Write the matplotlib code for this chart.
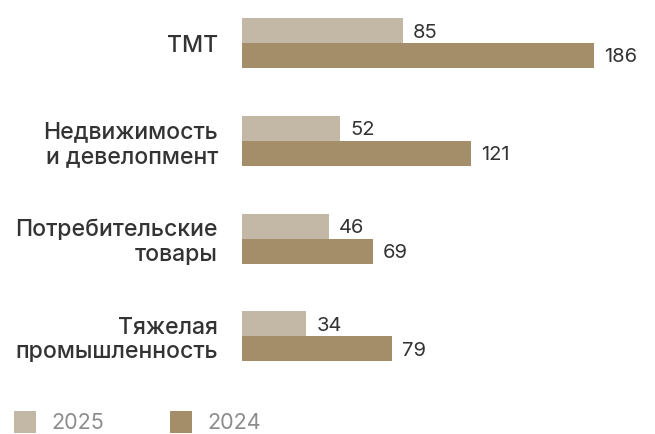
import matplotlib
matplotlib.use("Agg")
import matplotlib.pyplot as plt
from matplotlib.patches import Rectangle
import numpy as np

plt.rcParams['font.family'] = ['Inter', 'DejaVu Sans']

categories = ["ТМТ", "Недвижимость\nи девелопмент", "Потребительские\nтовары",
              "Тяжелая\nпромышленность"]
values_2025 = [85, 52, 46, 34]
values_2024 = [186, 121, 69, 79]
series_names = ["2025", "2024"]

color_2025 = "#c3b8a5"
color_2024 = "#a48d69"
text_color = "#333333"
legend_text_color = "#8c8c8c"

W, H = 655, 434
fig = plt.figure(figsize=(W / 100, H / 100), dpi=100)

# axes geometry in pixels
left_px, top_px, bottom_px = 242, 0, 392
px_per_unit_x = 352 / 186
xmax = 200
width_px = xmax * px_per_unit_x
ax = fig.add_axes([left_px / W, 1 - bottom_px / H, width_px / W, (bottom_px - top_px) / H])

spacing_px = 97.8
first_center_px = 43
y_top = -first_center_px / spacing_px
y_bottom = y_top + (bottom_px - top_px) / spacing_px
bar_h = 25 / spacing_px

y = np.arange(len(categories))
ax.barh(y - bar_h / 2, values_2025, height=bar_h, color=color_2025, linewidth=0)
ax.barh(y + bar_h / 2, values_2024, height=bar_h, color=color_2024, linewidth=0)

ax.set_xlim(0, xmax)
ax.set_ylim(y_bottom, y_top)

gap = 10 / px_per_unit_x
for yi, v in zip(y, values_2025):
    ax.text(v + gap, yi - bar_h / 2, str(v), ha="left", va="center_baseline",
            fontsize=14.5, color=text_color)
for yi, v in zip(y, values_2024):
    ax.text(v + gap, yi + bar_h / 2, str(v), ha="left", va="center_baseline",
            fontsize=14.5, color=text_color)

ax.set_yticks(y)
ax.set_yticklabels(categories, fontsize=16.6, fontweight="medium", color=text_color,
                   multialignment="right", linespacing=1.15)
ax.tick_params(axis="y", length=0, pad=24 * 72 / 100)
ax.set_xticks([])
for s in ax.spines.values():
    s.set_visible(False)

# legend
def fig_rect(x0, y0, w, h, color):
    fig.patches.append(Rectangle((x0 / W, 1 - (y0 + h) / H), w / W, h / H,
                                 transform=fig.transFigure, color=color, linewidth=0))

legend_items = [(14, color_2025, 51), (170, color_2024, 207)]
for (sx, col, tx), name in zip(legend_items, series_names):
    fig_rect(sx, 411, 22, 22, col)
    fig.text(tx / W, 1 - 421 / H, name, ha="left", va="center_baseline",
             fontsize=15.5, color=legend_text_color)

fig.savefig("out.png", dpi=100)
